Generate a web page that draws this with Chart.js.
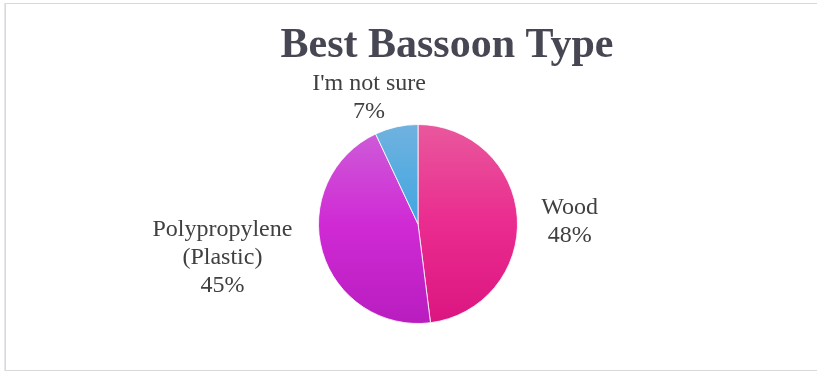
<!DOCTYPE html>
<html><head><meta charset="utf-8">
<script src="https://cdn.jsdelivr.net/npm/chart.js@4"></script>
<style>
html,body{margin:0;padding:0;background:#fff;overflow:hidden;width:817px;height:372px}
#frame{position:absolute;left:5px;top:3px;width:900px;height:366px;border:1px solid #d9d9d9;box-shadow:-1px 0 0 #e6e6ec}
#c{position:absolute;left:0;top:0}
</style></head><body>
<div id="frame"></div>
<canvas id="c" width="817" height="372"></canvas>
<script>
const categories = ["Wood", "Polypropylene (Plastic)", "I'm not sure"];
const labelLines = [["Wood"], ["Polypropylene", "(Plastic)"], ["I'm not sure"]];
const values = [48, 45, 7];
const titleText = "Best Bassoon Type";

const gradientStops = [
  ["#e9589d", "#ea2b8f", "#db1580"],
  ["#cd60d8", "#d02ad5", "#b81dbf"],
  ["#70b2df", "#40a6e1", "#3aa3e0"]
];
const fallback = ["#e92b8f", "#d02ad5", "#40a6e1"];

function sliceFill(ctx) {
  const chart = ctx.chart;
  const area = chart.chartArea;
  if (!area) return fallback[ctx.dataIndex];
  const cy = (area.top + area.bottom) / 2;
  const r = Math.min(area.right - area.left, area.bottom - area.top) / 2;
  const g = chart.ctx.createLinearGradient(0, cy - r, 0, cy + r);
  const s = gradientStops[ctx.dataIndex];
  g.addColorStop(0, s[0]);
  g.addColorStop(0.5, s[1]);
  g.addColorStop(1, s[2]);
  return g;
}

const titlePlugin = {
  id: 'frameTitle',
  afterDraw(chart) {
    const c = chart.ctx;
    c.save();
    c.font = 'bold 42px "Liberation Serif", "Times New Roman", serif';
    c.fillStyle = '#474753';
    c.textAlign = 'center';
    c.textBaseline = 'alphabetic';
    c.fillText(titleText, 447, 57);
    c.restore();
  }
};

const labelPlugin = {
  id: 'outsideLabels',
  afterDatasetsDraw(chart, args, opts) {
    const c = chart.ctx;
    const meta = chart.getDatasetMeta(0);
    const total = values.reduce((a, b) => a + b, 0);
    const lh = 28;
    const nudge = opts.nudge || [];
    c.save();
    c.font = '24px "Liberation Serif", "Times New Roman", serif';
    c.fillStyle = '#404040';
    c.textAlign = 'center';
    c.textBaseline = 'middle';
    meta.data.forEach((arc, i) => {
      const p = arc.getProps(['x', 'y', 'startAngle', 'endAngle', 'outerRadius'], true);
      const mid = (p.startAngle + p.endAngle) / 2;
      const dx = Math.cos(mid), dy = Math.sin(mid);
      const gap = 24;
      const ax = p.x + dx * (p.outerRadius + gap);
      const ay = p.y + dy * (p.outerRadius + gap);
      const lines = labelLines[i].concat([Math.round(values[i] / total * 100) + '%']);
      const w = Math.max(...lines.map(t => c.measureText(t).width));
      const h = lines.length * lh;
      let bx, by;
      if (Math.abs(dx) >= Math.abs(dy)) {
        bx = ax + Math.sign(dx) * w / 2; by = ay;
      } else {
        bx = ax; by = ay + Math.sign(dy) * h / 2;
      }
      const n = nudge[i] || [0, 0];
      bx += n[0]; by += n[1];
      lines.forEach((t, k) => {
        c.fillText(t, bx, by - h / 2 + lh / 2 + k * lh);
      });
    });
    c.restore();
  }
};

new Chart(document.getElementById('c'), {
  type: 'pie',
  data: {
    labels: categories,
    datasets: [{
      data: values,
      backgroundColor: sliceFill,
      borderColor: 'rgba(255,255,255,0.8)',
      borderWidth: 1,
      hoverOffset: 0,
      offset: 0
    }]
  },
  options: {
    responsive: false,
    devicePixelRatio: 1,
    animation: false,
    layout: { padding: { top: 124, bottom: 48, left: 318, right: 299 } },
    plugins: {
      legend: { display: false },
      tooltip: { enabled: false },
      title: { display: false },
      outsideLabels: { nudge: [[0, 5], [-7, -1], [-22, 22]] }
    }
  },
  plugins: [titlePlugin, labelPlugin]
});
</script>
</body></html>
